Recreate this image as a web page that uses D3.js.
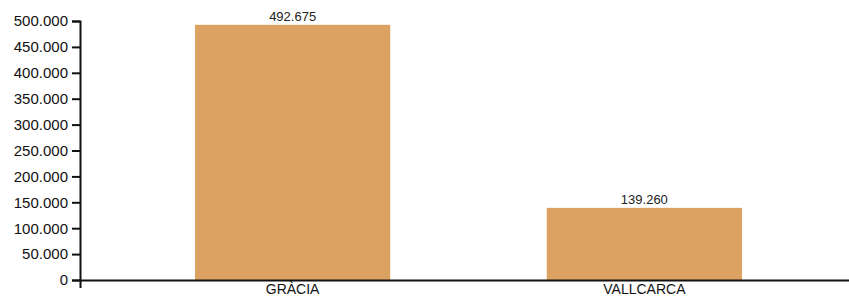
<!DOCTYPE html>
<html>
<head>
<meta charset="utf-8">
<script src="https://cdn.jsdelivr.net/npm/d3@7"></script>
<style>
    body { margin: 0; background: #fff; }
    text { font-family: "Liberation Sans", Arial, sans-serif; }
</style>
</head>
<body>
<div id="chart"></div>
<script>
// data
let categories = ["GRÀCIA", "VALLCARCA"];
let values = [492675, 139260];
let yTicks = [0, 50000, 100000, 150000, 200000, 250000, 300000, 350000, 400000, 450000, 500000];

let margin = {top: 21, right: 0, bottom: 17, left: 80};
let width = 849, height = 297;

let svg = d3.select("#chart").append("svg")
    .attr("width", width)
    .attr("height", height);

let locale = d3.formatLocale({decimal: ",", thousands: ".", grouping: [3], currency: ["", "€"]});
let fmt = locale.format(",d");

let x = d3.scaleBand()
    .domain(categories)
    .range([margin.left, 857])
    .paddingInner(0.445)
    .paddingOuter(0.327);

let y = d3.scaleLinear()
    .domain([0, 500000])
    .range([height - margin.bottom, margin.top]);

// bars
svg.selectAll("rect.bar")
    .data(categories)
    .enter()
    .append("rect")
    .attr("class", "bar")
    .attr("x", d => x(d))
    .attr("width", x.bandwidth())
    .attr("y", (d, i) => y(values[i]))
    .attr("height", (d, i) => y(0) - y(values[i]))
    .attr("fill", "#dca262");

// value labels
svg.selectAll("text.val")
    .data(categories)
    .enter()
    .append("text")
    .attr("class", "val")
    .attr("x", d => x(d) + x.bandwidth() / 2)
    .attr("y", (d, i) => y(values[i]) - 4)
    .attr("text-anchor", "middle")
    .style("font-size", "13px")
    .attr("fill", "#222")
    .text((d, i) => fmt(values[i]));

// axes
let yAxis = svg.append("g")
    .attr("transform", `translate(${margin.left},0)`)
    .call(d3.axisLeft(y).tickValues(yTicks).tickFormat(fmt).tickSize(8).tickPadding(4));

let xAxis = svg.append("g")
    .attr("transform", `translate(0,${y(0)})`)
    .call(d3.axisBottom(x).tickSize(0).tickSizeOuter(8).tickPadding(4));

svg.selectAll(".domain, .tick line")
    .attr("stroke", "#111")
    .attr("stroke-width", 2);

svg.selectAll(".tick text")
    .style("font-size", "15px")
    .style("font-family", "'Liberation Sans', Arial, sans-serif")
    .attr("fill", "#111");

xAxis.selectAll(".tick text")
    .style("font-size", "14px");
</script>
</body>
</html>
